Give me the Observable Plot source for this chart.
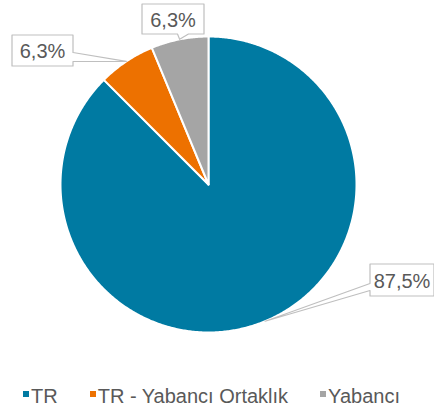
<!DOCTYPE html>
<html><head><meta charset="utf-8">
<script src="https://cdn.jsdelivr.net/npm/d3@7"></script>
<script src="https://cdn.jsdelivr.net/npm/@observablehq/plot@0.6"></script>
<style>
html,body{margin:0;padding:0;background:#fff;overflow:hidden;font-family:"Liberation Sans",Arial,sans-serif}
#chart svg{display:block}
#legend{display:flex;align-items:center;padding-left:23px;height:30px;font-size:20px;color:#595959;line-height:20px;white-space:nowrap}
.item{display:flex;align-items:center;margin-right:32px}
.sw{width:6px;height:6px;margin-right:2px;position:relative;top:-2px}
</style></head><body>
<div id="chart"></div><div id="legend"></div>
<script>
// ---- data ----
const categories = ["TR", "TR - Yabancı Ortaklık", "Yabancı"];
const shares = [87.5, 6.25, 6.25];
const colors = ["#007aa2", "#ed7100", "#a5a5a5"];

// ---- layout ----
const W = 434, H = 381, cx = 208, cy = 184, R = 148;
const boxes = [
  {x1: 369.5, y1: 263.5, x2: 433.5, y2: 295.5, side: "left",   a: 283, b: 290},
  {x1: 11.5,  y1: 34.5,  x2: 72.5,  y2: 65.5,  side: "right",  a: 52,  b: 61},
  {x1: 141.5, y1: 3.5,   x2: 203.5, y2: 33.5,  side: "bottom", a: 177, b: 188}
];

const arcs = d3.pie().sort(null).value(d => d)(shares);
const pt = (t, r) => [cx + r * Math.sin(t), cy - r * Math.cos(t)];

const slicePts = [];
arcs.forEach((a, i) => {
  const name = categories[i];
  slicePts.push({name, x: cx, y: cy});
  const n = Math.max(2, Math.ceil((a.endAngle - a.startAngle) / (Math.PI / 360)));
  for (let k = 0; k <= n; k++) {
    const t = a.startAngle + (a.endAngle - a.startAngle) * k / n;
    const [x, y] = pt(t, R);
    slicePts.push({name, x, y});
  }
  slicePts.push({name, x: cx, y: cy});
});

const calloutPts = [];
const labels = [];
arcs.forEach((a, i) => {
  const b = boxes[i];
  const mid = (a.startAngle + a.endAngle) / 2;
  const [tx, ty] = pt(mid, R);
  let p;
  if (b.side === "left")
    p = [[b.x1,b.y1],[b.x2,b.y1],[b.x2,b.y2],[b.x1,b.y2],[b.x1,b.b],[tx,ty],[b.x1,b.a],[b.x1,b.y1]];
  else if (b.side === "right")
    p = [[b.x1,b.y1],[b.x2,b.y1],[b.x2,b.a],[tx,ty],[b.x2,b.b],[b.x2,b.y2],[b.x1,b.y2],[b.x1,b.y1]];
  else
    p = [[b.x1,b.y1],[b.x2,b.y1],[b.x2,b.y2],[b.b,b.y2],[tx,ty],[b.a,b.y2],[b.x1,b.y2],[b.x1,b.y1]];
  p.forEach(([x, y]) => calloutPts.push({name: categories[i], x, y}));
  labels.push({x: (b.x1 + b.x2) / 2, y: (b.y1 + b.y2) / 2 + 1.5,
    text: shares[i].toFixed(1).replace(".", ",") + "%"});
});

const chart = Plot.plot({
  width: W, height: H, margin: 0,
  x: {type: "identity", axis: null}, y: {type: "identity", axis: null},
  color: {domain: categories, range: colors},
  style: {background: "white", overflow: "visible"},
  marks: [
    Plot.line(slicePts, {x: "x", y: "y", z: "name", fill: "name", stroke: "white", strokeWidth: 2, strokeLinejoin: "round", curve: "linear"}),
    Plot.line(calloutPts, {x: "x", y: "y", z: "name", fill: "white", stroke: "#bfbfbf", strokeWidth: 1.2, curve: "linear"}),
    Plot.text(labels, {x: "x", y: "y", text: "text", fontSize: 20, fill: "#595959", fontFamily: "Liberation Sans, Arial, sans-serif", textAnchor: "middle", lineAnchor: "middle"})
  ]
});
document.getElementById("chart").appendChild(chart);

const legend = document.getElementById("legend");
categories.forEach((c, i) => {
  const it = document.createElement("div"); it.className = "item";
  const sw = document.createElement("div"); sw.className = "sw"; sw.style.background = colors[i];
  const tx = document.createElement("span"); tx.textContent = c;
  it.appendChild(sw); it.appendChild(tx); legend.appendChild(it);
});
</script>
</body></html>
